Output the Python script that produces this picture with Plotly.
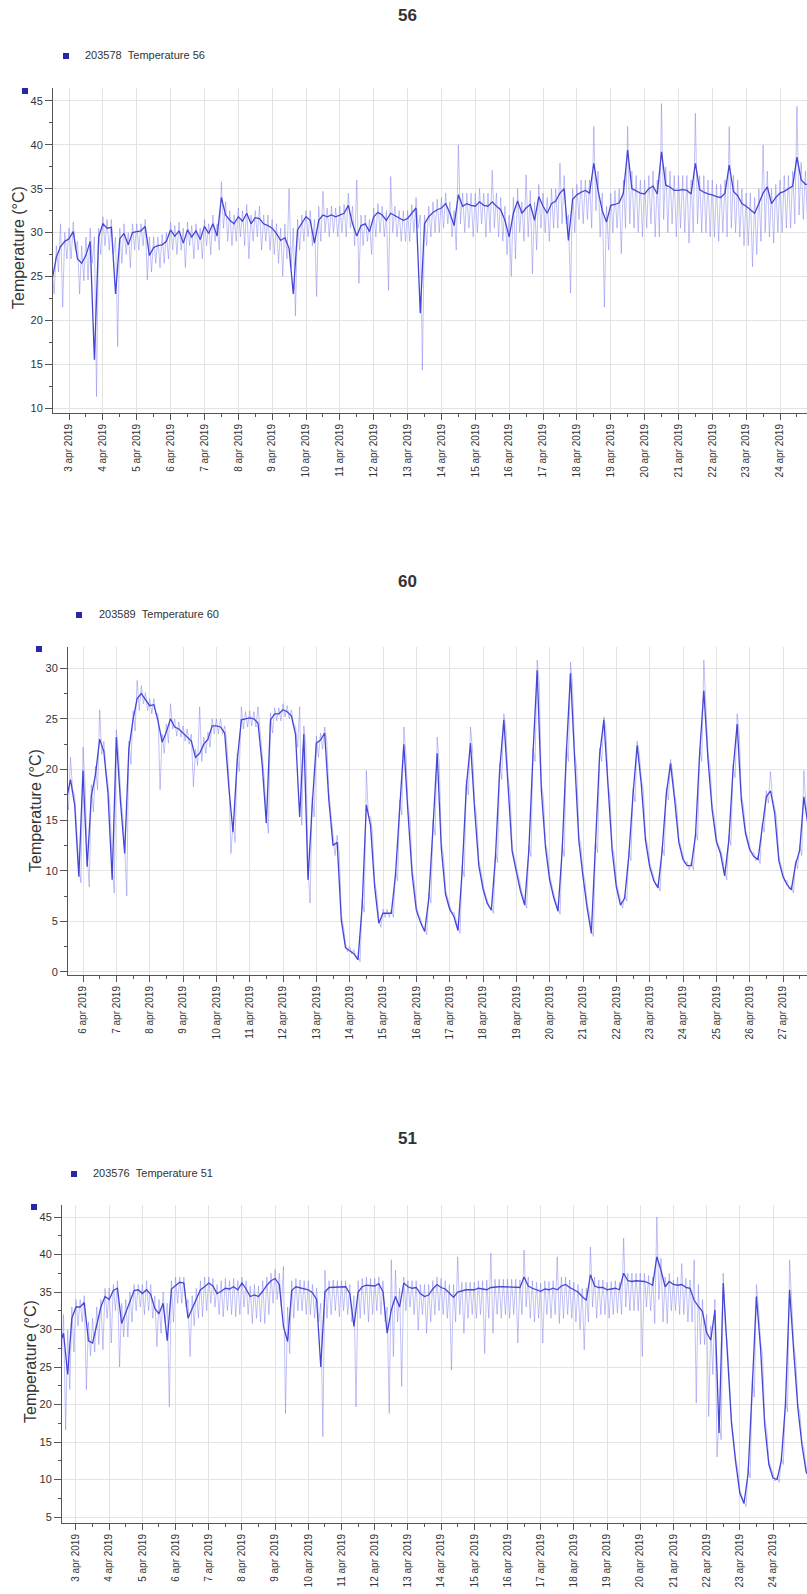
import pandas as pd
import plotly.graph_objects as go

# ---------------------------------------------------------------------------
# Sensor readings, one value every 3 hours.
# temp*  : smoothed temperature (dark line)
# low* / high* : extremes of the raw readings within each 3-hour slot
# ---------------------------------------------------------------------------

# Sensor 203578 - Temperature 56, from 2 Apr 2019 12:00
start56 = "2019-04-02 12:00"
temp56 = [
    24.6, 27.2, 28.4, 29.0,
    29.3, 30.1, 27.0, 26.5, 27.4, 29.0, 15.5, 29.5,
    31.0, 30.5, 30.6, 23.0, 29.3, 29.9, 28.6, 30.0,
    30.1, 30.2, 30.7, 27.4, 28.3, 28.5, 28.6, 29.0,
    30.3, 29.6, 30.2, 28.8, 30.3, 29.5, 30.2, 29.2,
    30.7, 29.9, 31.0, 29.6, 34.0, 32.0, 31.4, 31.0,
    31.8, 31.3, 32.2, 31.0, 31.7, 31.6, 31.0, 30.8,
    30.5, 29.9, 29.1, 29.4, 28.2, 23.0, 30.3, 31.0,
    31.8, 31.4, 28.8, 31.4, 32.0, 31.8, 32.0, 31.8,
    32.0, 32.2, 33.1, 31.0, 29.6, 30.8, 31.0, 30.1,
    31.8, 32.3, 32.0, 31.4, 32.2, 31.9, 31.6, 31.4,
    31.6, 32.2, 32.8, 20.8, 31.0, 31.8, 32.3, 32.6,
    32.8, 33.3, 32.2, 30.8, 34.3, 33.0, 33.3, 33.1,
    33.0, 33.5, 33.1, 33.0, 33.5, 33.0, 32.6, 31.4,
    29.5, 32.2, 33.6, 32.2, 32.8, 33.2, 31.4, 34.1,
    33.0, 32.2, 33.3, 33.6, 34.5, 35.0, 29.1, 33.8,
    34.3, 34.6, 34.8, 34.5, 37.9, 34.8, 32.5, 31.2,
    33.1, 33.2, 33.4, 34.5, 39.4, 35.0, 34.7, 34.5,
    34.4, 35.0, 35.3, 34.4, 39.2, 35.4, 35.2, 34.8,
    34.8, 34.9, 34.8, 34.4, 37.9, 34.9, 34.6, 34.4,
    34.3, 34.1, 34.0, 34.5, 37.7, 34.7, 34.2, 33.3,
    33.0, 32.6, 32.2, 33.3, 34.5, 35.2, 33.3, 34.0,
    34.5, 34.7, 35.0, 35.3, 38.6, 36.0, 35.5, 35.5,
]
low56 = [
    23.0, 25.5, 21.5, 27.0,
    27.0, 28.0, 23.0, 24.5, 24.6, 26.5, 11.3, 27.5,
    28.5, 28.0, 27.5, 17.0, 26.5, 27.5, 26.0, 28.0,
    28.0, 28.5, 24.6, 25.5, 26.5, 26.0, 26.5, 27.0,
    28.0, 27.5, 28.0, 26.0, 28.5, 27.0, 28.0, 27.0,
    28.5, 27.5, 29.0, 28.0, 30.5, 29.0, 28.5, 29.0,
    29.5, 28.5, 27.0, 29.0, 29.5, 28.0, 29.0, 28.0,
    27.5, 26.5, 25.0, 27.0, 26.0, 20.5, 28.0, 29.0,
    29.5, 28.5, 22.7, 29.0, 30.0, 29.5, 30.0, 29.5,
    30.0, 29.5, 30.5, 28.5, 24.2, 28.5, 29.0, 27.5,
    29.5, 30.0, 29.5, 23.4, 30.0, 29.5, 29.0, 29.0,
    29.0, 30.0, 30.5, 14.3, 28.5, 29.5, 30.0, 30.0,
    30.5, 31.0, 29.5, 28.0, 31.0, 30.0, 30.5, 29.5,
    30.0, 31.0, 29.5, 30.0, 30.5, 29.5, 29.0, 27.5,
    25.0, 27.0, 30.0, 29.0, 29.5, 25.3, 28.0, 30.5,
    30.0, 29.0, 30.5, 30.5, 31.0, 31.0, 23.1, 30.0,
    31.5, 31.0, 31.5, 30.5, 32.5, 29.5, 21.5, 28.0,
    30.0, 30.5, 27.6, 30.5, 31.0, 30.5, 30.0, 29.5,
    30.5, 31.0, 29.5, 29.5, 31.5, 30.0, 31.0, 29.5,
    30.5, 30.0, 28.8, 30.0, 31.0, 30.0, 30.0, 29.5,
    29.5, 29.0, 30.0, 29.5, 30.5, 30.0, 29.5, 28.5,
    28.5, 26.1, 27.5, 29.0, 30.0, 29.5, 28.8, 30.0,
    30.0, 30.5, 30.5, 31.0, 32.0, 31.5, 31.0, 31.0,
]
high56 = [
    26.0, 28.5, 31.0, 30.0,
    30.5, 31.2, 29.0, 28.5, 29.5, 30.5, 29.5, 30.5,
    31.8, 31.5, 31.5, 29.5, 30.5, 31.0, 30.0, 31.0,
    31.0, 31.0, 31.5, 29.5, 29.5, 29.5, 29.8, 30.0,
    31.2, 30.8, 31.2, 30.5, 31.2, 30.8, 31.0, 30.5,
    31.5, 31.0, 32.0, 31.0, 35.8, 33.5, 32.5, 32.0,
    32.8, 32.5, 33.2, 32.0, 32.5, 33.0, 32.0, 32.0,
    31.5, 31.0, 30.5, 31.0, 35.0, 30.5, 31.5, 32.0,
    32.5, 32.5, 31.5, 33.0, 34.7, 32.8, 33.0, 32.8,
    33.0, 33.2, 34.5, 33.0, 36.0, 32.0, 32.0, 31.5,
    32.8, 33.3, 33.0, 32.5, 36.4, 33.0, 32.5, 32.5,
    32.5, 33.2, 34.0, 32.0, 32.0, 33.0, 33.5, 33.8,
    34.0, 34.5, 33.5, 32.5, 40.0, 34.5, 34.5, 34.5,
    34.5, 35.0, 34.5, 34.5, 37.1, 34.5, 34.0, 33.0,
    32.0, 34.0, 35.0, 33.5, 36.6, 34.8, 33.5, 35.5,
    34.5, 34.0, 35.0, 35.0, 37.9, 36.5, 32.0, 35.0,
    35.5, 36.0, 36.0, 36.0, 42.1, 37.0, 34.5, 33.0,
    34.5, 34.8, 35.0, 36.0, 42.1, 37.0, 36.5, 36.0,
    36.0, 36.5, 37.0, 36.0, 44.7, 37.5, 37.0, 36.5,
    36.5, 36.5, 36.5, 36.0, 43.6, 36.5, 36.5, 36.0,
    36.0, 35.5, 35.5, 36.0, 42.1, 36.5, 36.0, 35.0,
    34.5, 34.5, 34.0, 35.0, 40.0, 37.0, 35.0, 35.5,
    36.0, 36.5, 36.5, 37.0, 44.4, 38.0, 37.0, 37.0,
]
days56 = list(range(3, 25))

# Sensor 203589 - Temperature 60, from 5 Apr 2019 12:00
start60 = "2019-04-05 12:00"
temp60 = [
    17.0, 19.0, 16.5, 9.4,
    19.9, 10.4, 17.4, 19.5, 23.0, 21.8, 17.6, 9.1,
    23.2, 16.8, 11.7, 22.0, 24.9, 27.0, 27.5, 26.9,
    26.3, 26.4, 24.8, 22.7, 23.7, 25.0, 24.2, 24.0,
    23.6, 23.3, 22.8, 21.2, 21.6, 22.5, 23.0, 24.3,
    24.3, 24.2, 23.6, 18.3, 13.8, 20.8, 24.9, 25.0,
    25.1, 25.0, 24.6, 20.5, 14.7, 24.9, 25.5, 25.5,
    25.9, 25.7, 25.3, 23.5, 15.3, 23.5, 9.1, 16.4,
    22.6, 22.9, 23.6, 17.0, 12.5, 12.8, 5.1, 2.4,
    2.1, 1.8, 1.2, 6.5, 16.5, 14.5, 8.4, 4.8,
    5.8, 5.8, 5.8, 9.6, 16.3, 22.5, 15.7, 9.6,
    6.1, 4.9, 4.0, 7.3, 14.3, 21.6, 12.2, 7.7,
    6.2, 5.5, 4.1, 10.0, 18.3, 22.6, 16.0, 10.5,
    8.2, 6.8, 6.1, 11.4, 19.9, 24.9, 18.5, 11.9,
    9.9, 8.0, 6.6, 12.0, 21.5, 29.8, 18.0, 12.3,
    9.1, 7.3, 6.0, 12.0, 21.6, 29.5, 21.0, 13.0,
    9.4, 6.3, 3.8, 12.4, 21.5, 24.9, 18.0, 12.0,
    8.4, 6.6, 7.3, 11.5, 17.5, 22.4, 18.5, 13.0,
    10.4, 9.0, 8.3, 12.0, 17.6, 20.6, 17.0, 12.8,
    11.1, 10.5, 10.5, 13.5, 21.6, 27.8, 21.0, 16.0,
    12.9, 11.7, 9.5, 13.0, 19.9, 24.5, 17.0, 13.7,
    12.1, 11.4, 11.1, 14.3, 17.3, 17.9, 15.7, 11.0,
    9.4, 8.6, 8.1, 10.6, 12.0, 17.3, 14.5,
]
low60 = [
    16.0, 18.0, 14.5, 8.8,
    18.5, 8.4, 15.8, 18.0, 21.5, 20.0, 16.2, 7.8,
    21.8, 15.5, 7.5, 20.5, 23.8, 25.8, 26.5, 25.8,
    25.5, 25.5, 18.0, 21.6, 22.6, 24.0, 23.3, 23.2,
    22.8, 22.5, 18.3, 20.4, 20.8, 21.6, 22.2, 23.5,
    23.5, 23.5, 22.8, 11.7, 12.8, 19.8, 24.0, 24.2,
    24.3, 24.2, 23.8, 19.2, 13.7, 23.6, 24.8, 24.8,
    25.2, 25.0, 24.6, 22.2, 14.5, 22.2, 6.8, 15.3,
    21.2, 22.0, 22.8, 15.8, 11.5, 11.8, 4.5, 2.0,
    1.8, 1.5, 1.0, 5.9, 15.4, 13.6, 7.8, 4.4,
    5.4, 5.4, 5.4, 9.0, 15.5, 21.5, 15.0, 9.0,
    5.7, 4.5, 3.7, 6.8, 13.5, 20.5, 11.6, 7.3,
    5.8, 5.1, 3.8, 9.4, 17.5, 21.8, 15.3, 10.0,
    7.8, 6.4, 5.8, 10.8, 19.0, 24.0, 17.8, 11.4,
    9.5, 7.6, 6.3, 11.4, 20.8, 28.5, 17.2, 11.8,
    8.7, 6.9, 5.7, 11.4, 20.8, 28.2, 20.2, 12.5,
    9.0, 5.9, 3.5, 11.8, 20.8, 24.0, 17.3, 11.5,
    8.0, 6.3, 7.0, 11.0, 16.8, 21.6, 17.8, 12.5,
    10.0, 8.6, 8.0, 11.5, 17.0, 19.8, 16.4, 12.3,
    10.7, 10.1, 10.1, 13.0, 20.8, 26.8, 20.2, 15.4,
    12.5, 11.3, 9.1, 12.5, 19.2, 23.5, 16.4, 13.2,
    11.7, 11.0, 10.7, 13.8, 16.7, 17.2, 15.1, 10.6,
    9.0, 8.2, 7.8, 10.2, 11.5, 16.6, 14.0,
]
high60 = [
    18.0, 21.2, 17.5, 10.5,
    22.2, 11.5, 18.5, 20.3, 25.9, 22.8, 18.5, 10.5,
    23.9, 17.8, 12.5, 22.8, 25.8, 28.8, 28.3, 27.6,
    27.0, 27.0, 25.5, 23.5, 24.5, 26.5, 25.0, 24.7,
    24.3, 24.0, 23.5, 22.0, 26.2, 23.2, 23.7, 25.0,
    25.0, 25.0, 24.3, 19.2, 14.8, 21.6, 26.2, 25.7,
    25.8, 25.7, 26.2, 21.3, 15.5, 25.6, 26.1, 26.1,
    26.5, 26.3, 25.9, 24.2, 26.2, 24.3, 10.2, 17.3,
    23.3, 23.6, 24.2, 17.8, 13.3, 13.5, 5.6, 2.8,
    2.5, 2.2, 1.6, 7.2, 19.9, 15.3, 8.9, 5.2,
    6.2, 6.2, 6.2, 10.1, 17.0, 24.2, 16.3, 10.1,
    6.5, 5.3, 4.3, 7.8, 15.0, 23.2, 12.8, 8.1,
    6.6, 5.9, 4.5, 10.5, 19.0, 24.2, 16.6, 11.0,
    8.6, 7.2, 6.4, 11.9, 20.6, 25.5, 19.1, 12.3,
    10.3, 8.4, 7.0, 12.5, 22.1, 30.8, 18.7, 12.7,
    9.5, 7.7, 6.4, 12.5, 22.3, 30.6, 21.6, 13.4,
    9.8, 6.7, 4.2, 12.9, 22.1, 25.2, 18.6, 12.4,
    8.8, 7.0, 7.6, 12.0, 18.1, 22.8, 19.1, 13.4,
    10.8, 9.4, 8.7, 12.4, 18.2, 21.0, 17.5, 13.2,
    11.5, 10.9, 10.9, 14.0, 22.2, 30.8, 21.6, 16.5,
    13.3, 12.1, 9.9, 13.5, 20.5, 25.5, 17.5, 14.1,
    12.5, 11.8, 11.5, 14.7, 17.9, 19.8, 16.2, 11.4,
    9.8, 9.0, 8.5, 11.0, 12.5, 19.9, 15.0,
]
days60 = list(range(6, 28))

# Sensor 203576 - Temperature 51, from 2 Apr 2019 12:00
start51 = "2019-04-02 12:00"
temp51 = [
    28.0, 29.5, 24.0, 31.5,
    33.0, 33.0, 33.6, 28.5, 28.2, 30.8, 33.0, 34.4,
    34.0, 35.2, 35.5, 30.8, 32.3, 33.7, 35.2, 35.3,
    34.8, 35.3, 34.7, 32.8, 32.1, 33.5, 28.5, 35.4,
    35.9, 36.3, 36.2, 31.5, 32.8, 34.0, 35.3, 35.7,
    36.2, 35.8, 34.8, 35.1, 35.5, 35.4, 35.7, 35.3,
    36.2, 35.4, 34.4, 34.6, 34.4, 35.1, 35.9, 36.5,
    36.8, 36.0, 30.4, 28.4, 35.2, 35.7, 35.6, 35.5,
    35.3, 34.9, 34.0, 25.0, 35.0, 35.6, 35.6, 35.6,
    35.7, 35.7, 34.8, 30.4, 35.0, 35.7, 35.9, 35.8,
    35.8, 36.1, 35.0, 29.5, 32.6, 34.4, 33.0, 36.2,
    35.7, 35.5, 35.6, 34.8, 34.4, 34.6, 35.4, 36.0,
    35.6, 35.4, 34.8, 34.3, 35.0, 35.2, 35.3, 35.3,
    35.3, 35.5, 35.4, 35.3, 35.6, 35.7, 35.7, 35.7,
    35.7, 35.7, 35.7, 35.6, 37.0, 35.8, 35.5, 35.3,
    35.1, 35.4, 35.3, 35.5, 35.3, 35.8, 36.0, 35.6,
    35.3, 35.0, 34.4, 33.9, 37.3, 35.8, 35.6, 35.6,
    35.3, 35.4, 35.5, 35.3, 37.5, 36.5, 36.4, 36.5,
    36.5, 36.4, 36.2, 35.9, 39.7, 37.9, 35.7, 36.4,
    36.0, 35.9, 36.0, 35.6, 35.5, 33.9, 33.1, 32.4,
    29.6, 28.6, 32.6, 16.2, 36.2, 26.8, 17.5, 12.3,
    8.2, 6.8, 10.8, 22.3, 34.4, 27.5, 17.3, 12.0,
    10.2, 10.0, 12.5, 20.0, 35.3, 27.0, 19.5, 14.5,
    11.0, 10.0,
]
low51 = [
    26.0, 16.6, 22.0, 27.0,
    30.5, 31.0, 22.0, 26.5, 27.0, 28.0, 27.3, 31.5,
    28.2, 32.5, 25.0, 29.0, 29.0, 31.0, 32.5, 33.0,
    32.0, 32.5, 31.5, 27.7, 29.5, 31.0, 19.7, 31.0,
    33.5, 33.5, 33.0, 26.4, 30.5, 31.5, 31.7, 32.5,
    33.5, 33.0, 32.0, 31.7, 32.5, 32.0, 31.7, 32.0,
    33.0, 32.0, 30.8, 31.5, 31.0, 30.8, 32.0, 33.5,
    34.0, 33.0, 18.8, 26.8, 31.5, 32.5, 32.5, 32.0,
    32.0, 31.5, 31.0, 15.7, 31.5, 32.0, 32.5, 31.7,
    32.5, 32.0, 31.0, 19.7, 31.5, 32.0, 31.0, 32.0,
    32.5, 32.0, 31.0, 18.8, 26.4, 31.0, 22.4, 32.5,
    33.0, 32.0, 29.9, 32.0, 29.5, 31.0, 32.0, 32.5,
    32.0, 31.5, 24.6, 31.0, 32.0, 29.5, 31.5, 32.0,
    31.5, 32.0, 26.8, 31.5, 29.5, 32.0, 31.5, 32.0,
    31.5, 32.0, 28.2, 32.0, 33.0, 31.5, 31.0, 31.5,
    28.2, 32.0, 31.5, 32.0, 30.8, 31.5, 32.0, 31.5,
    31.0, 30.0, 27.3, 31.0, 33.0, 31.5, 32.0, 32.0,
    31.5, 32.0, 32.2, 32.0, 33.0, 32.5, 32.5, 32.5,
    26.4, 33.0, 32.5, 30.8, 34.0, 31.0, 30.8, 32.5,
    32.5, 32.0, 32.0, 31.0, 31.0, 20.2, 28.0, 28.0,
    18.4, 24.0, 13.0, 15.3, 30.5, 22.5, 15.5, 11.5,
    7.8, 6.4, 10.2, 21.0, 33.0, 26.5, 16.5, 11.5,
    9.8, 9.6, 12.0, 19.0, 33.5, 26.0, 18.8, 14.0,
    10.6, 9.6,
]
high51 = [
    30.0, 32.0, 30.0, 33.0,
    34.0, 34.0, 34.5, 31.0, 31.5, 33.0, 34.0, 35.5,
    35.5, 36.0, 36.5, 33.5, 34.0, 35.0, 36.0, 36.0,
    36.0, 36.5, 36.0, 34.5, 34.0, 35.0, 33.5, 36.5,
    37.0, 37.0, 37.0, 34.0, 34.5, 35.5, 36.5, 37.0,
    37.0, 36.8, 36.0, 36.5, 36.8, 36.5, 36.8, 36.5,
    37.0, 36.5, 35.8, 36.0, 35.8, 36.5, 37.0, 37.5,
    38.0, 37.5, 38.4, 33.0, 36.5, 36.8, 36.6, 36.5,
    36.5, 36.0, 35.5, 33.5, 37.9, 36.5, 36.6, 36.5,
    36.5, 36.5, 36.0, 34.5, 36.5, 36.8, 37.0, 36.8,
    36.8, 37.0, 36.5, 33.0, 39.3, 37.9, 35.5, 37.0,
    36.5, 36.5, 36.5, 36.0, 36.0, 36.0, 36.5, 37.0,
    36.8, 36.5, 36.0, 36.0, 39.7, 36.3, 36.3, 36.3,
    36.3, 36.5, 36.5, 36.6, 40.2, 36.7, 36.7, 36.7,
    36.7, 36.7, 36.7, 36.6, 40.6, 37.0, 36.5, 36.3,
    36.2, 36.5, 36.4, 36.5, 39.7, 37.0, 37.0, 36.6,
    36.3, 36.0, 35.5, 35.5, 41.0, 37.0, 36.6, 36.6,
    36.3, 36.4, 36.5, 36.3, 42.2, 37.5, 37.5, 37.5,
    37.5, 37.5, 37.2, 37.0, 45.0, 39.5, 37.0, 37.5,
    36.6, 37.0, 38.8, 36.8, 36.6, 39.3, 36.0, 34.0,
    32.0, 30.5, 34.0, 18.0, 37.5, 28.0, 18.0, 12.8,
    8.6, 7.2, 11.5, 23.5, 36.0, 28.5, 18.0, 12.5,
    10.6, 10.4, 13.0, 21.0, 39.3, 28.0, 20.0, 15.0,
    11.5, 10.4,
]
days51 = list(range(3, 25))

# ---------------------------------------------------------------------------
# Page geometry and styling
# ---------------------------------------------------------------------------
W, H = 807, 1594
FONT = "Liberation Sans, Arial, sans-serif"
LINE_COLOR = "#4646d6"
RAW_COLOR = "rgba(120,120,235,0.45)"
GRID_COLOR = "#e3e3e3"
AXIS_COLOR = "#555555"
TEXT_COLOR = "#333333"
MARK_COLOR = "#2626a6"


def fx(px):
    return px / W


def fy(py):
    return 1 - py / H


panels = [
    dict(key="56", serial="203578", start=start56, temp=temp56, low=low56, high=high56,
         days=days56, xrange=["2019-04-02 12:39", "2019-04-24 19:08"], yrange=[9.43, 46.48],
         box_x=(53, 807), box_y=(88, 413), title_y=16, legend=(66, 56, 83),
         corner=(25, 91), ytitle=(18, 248)),
    dict(key="60", serial="203589", start=start60, temp=temp60, low=low60, high=high60,
         days=days60, xrange=["2019-04-05 13:12", "2019-04-27 17:17"], yrange=[-0.3, 32.1],
         box_x=(68, 807), box_y=(647, 975), title_y=581, legend=(79, 615, 97),
         corner=(39, 649), ytitle=(35, 811)),
    dict(key="51", serial="203576", start=start51, temp=temp51, low=low51, high=high51,
         days=days51, xrange=["2019-04-02 13:53", "2019-04-25 00:35"], yrange=[4.2, 46.6],
         box_x=(62, 807), box_y=(1205, 1523), title_y=1138, legend=(74, 1174, 91),
         corner=(34, 1207), ytitle=(30, 1362)),
]

fig = go.Figure()
shapes = []
annotations = []
axes = {}
step = pd.Timedelta(hours=3)
half = pd.Timedelta(minutes=90)

for n, p in enumerate(panels, start=1):
    assert len(p["temp"]) == len(p["low"]) == len(p["high"])
    xa = "x" if n == 1 else f"x{n}"
    ya = "y" if n == 1 else f"y{n}"
    times = pd.date_range(p["start"], periods=len(p["temp"]), freq=step)

    # raw readings: each slot swings between its high and low reading
    raw_x, raw_y = [], []
    for t, hi, lo in zip(times, p["high"], p["low"]):
        raw_x += [t, t + half]
        raw_y += [hi, lo]
    fig.add_trace(go.Scatter(
        x=raw_x, y=raw_y, mode="lines", xaxis=xa, yaxis=ya,
        line=dict(color=RAW_COLOR, width=1), hoverinfo="skip", showlegend=False))
    fig.add_trace(go.Scatter(
        x=times, y=p["temp"], mode="lines", xaxis=xa, yaxis=ya,
        name=f"{p['serial']} Temperature {p['key']}",
        line=dict(color=LINE_COLOR, width=1.3), showlegend=False))

    tick_vals = [pd.Timestamp(2019, 4, d) for d in p["days"]]
    tick_text = [f"{d} apr 2019" for d in p["days"]]
    noon_vals = [pd.Timestamp(2019, 4, d, 12) for d in p["days"]]

    x0, x1 = p["box_x"]
    y0, y1 = p["box_y"]
    axes["xaxis" if n == 1 else f"xaxis{n}"] = dict(
        domain=[fx(x0), fx(x1)], anchor=ya, type="date", range=p["xrange"],
        tickmode="array", tickvals=tick_vals, ticktext=tick_text, tickangle=-90,
        ticks="outside", ticklen=6, tickcolor=AXIS_COLOR, tickwidth=1,
        tickfont=dict(family=FONT, size=10, color=TEXT_COLOR),
        showline=True, linecolor=AXIS_COLOR, linewidth=1,
        showgrid=True, gridcolor=GRID_COLOR, gridwidth=1, zeroline=False,
        minor=dict(tickmode="array", tickvals=noon_vals, ticks="outside",
                   ticklen=3, tickcolor=AXIS_COLOR, showgrid=False),
        automargin=False, fixedrange=True,
    )
    axes["yaxis" if n == 1 else f"yaxis{n}"] = dict(
        domain=[fy(y1), fy(y0)], anchor=xa, range=p["yrange"],
        tick0=0, dtick=5, ticks="outside", ticklen=7, tickcolor=AXIS_COLOR,
        tickfont=dict(family=FONT, size=11, color=TEXT_COLOR),
        showline=True, linecolor=AXIS_COLOR, linewidth=1,
        showgrid=True, gridcolor=GRID_COLOR, gridwidth=1, zeroline=False,
        minor=dict(dtick=2.5, tick0=0, ticks="outside", ticklen=3,
                   tickcolor=AXIS_COLOR, showgrid=False),
        automargin=False, fixedrange=True,
    )

    # chart title
    annotations.append(dict(
        text=f"<b>{p['key']}</b>", x=fx(408), y=fy(p["title_y"]), xref="paper", yref="paper",
        xanchor="center", yanchor="middle", showarrow=False,
        font=dict(family=FONT, size=17, color="#333333")))

    # series key
    sq_x, sq_y, txt_x = p["legend"]
    shapes.append(dict(type="rect", xref="paper", yref="paper",
                       x0=fx(sq_x - 3), x1=fx(sq_x + 3), y0=fy(sq_y + 3), y1=fy(sq_y - 3),
                       fillcolor=MARK_COLOR, line=dict(width=0)))
    annotations.append(dict(
        text=f"{p['serial']}\u00a0\u00a0Temperature {p['key']}",
        x=fx(txt_x), y=fy(sq_y - 1), xref="paper", yref="paper",
        xanchor="left", yanchor="middle", showarrow=False,
        font=dict(family=FONT, size=11, color=TEXT_COLOR)))

    # small marker at the top of the value axis
    cx, cy = p["corner"]
    shapes.append(dict(type="rect", xref="paper", yref="paper",
                       x0=fx(cx - 3), x1=fx(cx + 3), y0=fy(cy + 3), y1=fy(cy - 3),
                       fillcolor=MARK_COLOR, line=dict(width=0)))

    # value axis title
    tx, ty = p["ytitle"]
    annotations.append(dict(
        text="Temperature (°C)", x=fx(tx), y=fy(ty), xref="paper", yref="paper",
        xanchor="center", yanchor="middle", textangle=-90, showarrow=False,
        font=dict(family=FONT, size=16, color=TEXT_COLOR)))

fig.update_layout(
    width=W, height=H,
    margin=dict(l=0, r=0, t=0, b=0),
    paper_bgcolor="white", plot_bgcolor="white",
    showlegend=False,
    font=dict(family=FONT, color=TEXT_COLOR),
    shapes=shapes, annotations=annotations,
    **axes,
)

fig.write_html("out.html")
